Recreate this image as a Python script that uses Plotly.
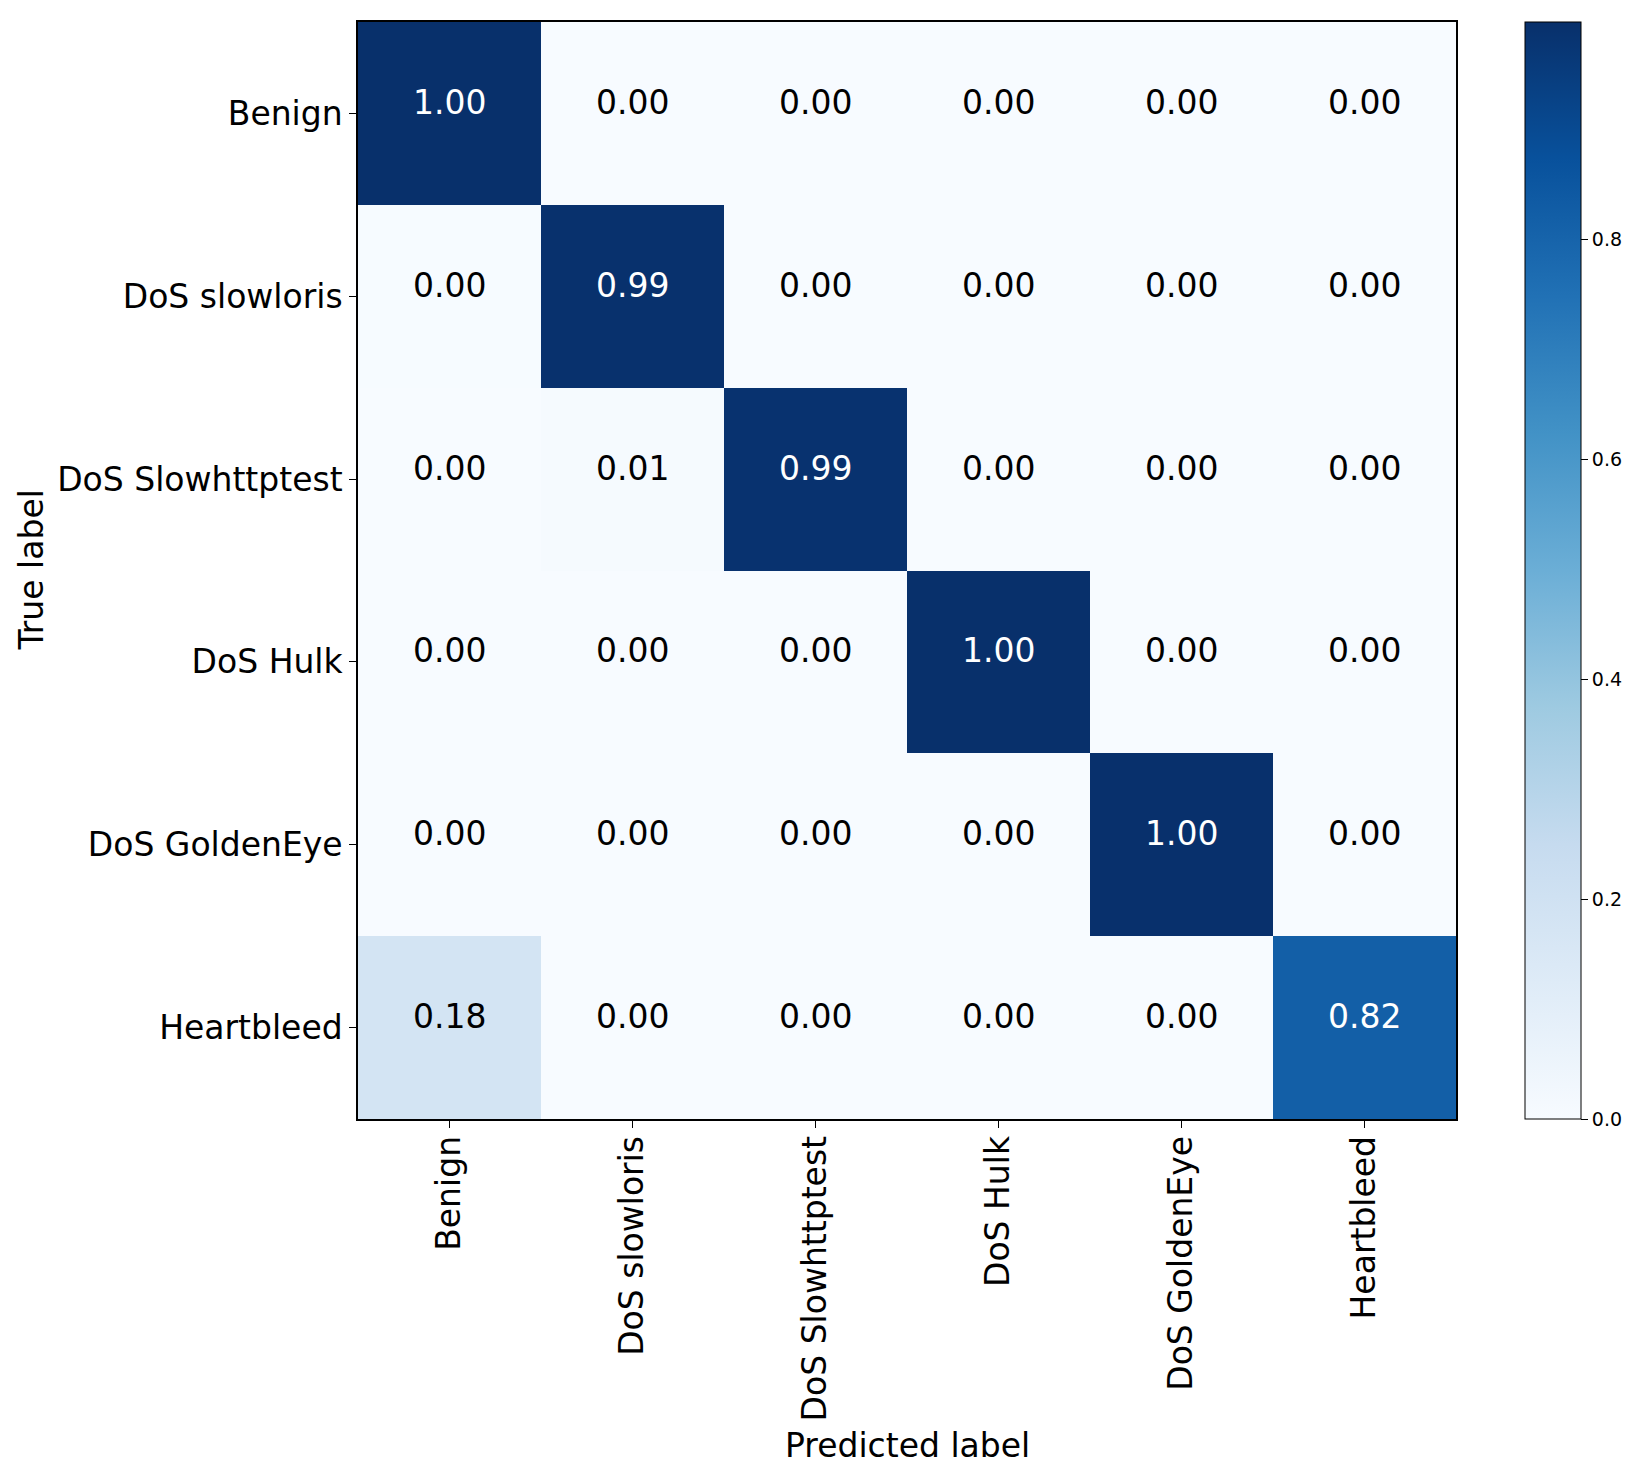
import plotly.graph_objects as go

labels = ["Benign", "DoS slowloris", "DoS Slowhttptest", "DoS Hulk", "DoS GoldenEye", "Heartbleed"]
row_benign = [0.9975, 0.0004, 0.0002, 0.0015, 0.0004, 0.0]
row_slowloris = [0.0030, 0.9930, 0.0015, 0.0010, 0.0015, 0.0]
row_slowhttptest = [0.0008, 0.0100, 0.9890, 0.0001, 0.0001, 0.0]
row_hulk = [0.0015, 0.0, 0.0, 0.9980, 0.0005, 0.0]
row_goldeneye = [0.0020, 0.0005, 0.0, 0.0010, 0.9965, 0.0]
row_heartbleed = [0.1818, 0.0, 0.0, 0.0, 0.0, 0.8182]
z = [row_benign, row_slowloris, row_slowhttptest, row_hulk, row_goldeneye, row_heartbleed]
cb_ticks = [0.0, 0.2, 0.4, 0.6, 0.8]

blues = [[0.0, "rgb(247,251,255)"], [0.125, "rgb(222,235,247)"], [0.25, "rgb(198,219,239)"],
         [0.375, "rgb(158,202,225)"], [0.5, "rgb(107,174,214)"], [0.625, "rgb(66,146,198)"],
         [0.75, "rgb(33,113,181)"], [0.875, "rgb(8,81,156)"], [1.0, "rgb(8,48,107)"]]

FONT = "DejaVu Sans"
zmax = max(max(r) for r in z)
zmin = min(min(r) for r in z)

W, H = 1644, 1479
L, R, T, B = 358, 188, 22, 360
pw = W - L - R

fig = go.Figure(go.Heatmap(
    z=z, x=labels, y=labels, colorscale=blues, zmin=zmin, zmax=zmax,
    xgap=0, ygap=0,
    colorbar=dict(
        thickness=56, thicknessmode="pixels", len=1, lenmode="fraction",
        x=1 + 69 / pw, xanchor="left", y=0.5, yanchor="middle",
        xpad=0, ypad=0, outlinewidth=1, outlinecolor="black",
        tickvals=cb_ticks, tickformat=".1f", ticks="outside", ticklen=7,
        tickwidth=1, tickcolor="black",
        tickfont=dict(family=FONT, size=19, color="black"),
    ),
    hoverinfo="skip",
))

thresh = zmax / 2
annotations = []
for i, row in enumerate(z):
    for j, v in enumerate(row):
        annotations.append(dict(
            x=labels[j], y=labels[i], xref="x", yref="y", text=f"{v:.2f}",
            showarrow=False, yshift=11,
            font=dict(family=FONT, size=33, color="white" if v > thresh else "black"),
        ))

annotations.append(dict(x=0.5, y=-(1445 - (H - B)) / (H - T - B), xref="paper", yref="paper",
                        text="Predicted label", showarrow=False, yanchor="middle",
                        font=dict(family=FONT, size=33, color="black")))
annotations.append(dict(x=-(L - 31) / pw, y=0.5, xref="paper", yref="paper",
                        text="True label", showarrow=False, textangle=-90, xanchor="center",
                        font=dict(family=FONT, size=33, color="black")))

fig.update_layout(
    width=W, height=H, margin=dict(l=L, r=R, t=T, b=B, autoexpand=False),
    paper_bgcolor="white", plot_bgcolor="white",
    annotations=annotations,
    font=dict(family=FONT, color="black"),
)
fig.update_xaxes(tickangle=-90, ticks="outside", ticklen=7, tickwidth=1, tickcolor="black",
                 showline=True, linecolor="black", linewidth=1.5, mirror=True,
                 ticklabelstandoff=-5,
                 tickfont=dict(family=FONT, size=33, color="black"), showgrid=False, zeroline=False)
fig.update_yaxes(autorange="reversed", ticks="outside", ticklen=7, tickwidth=1, tickcolor="black",
                 showline=True, linecolor="black", linewidth=1.5, mirror=True,
                 tickfont=dict(family=FONT, size=33, color="black"), showgrid=False, zeroline=False)

fig.write_html("out.html")
